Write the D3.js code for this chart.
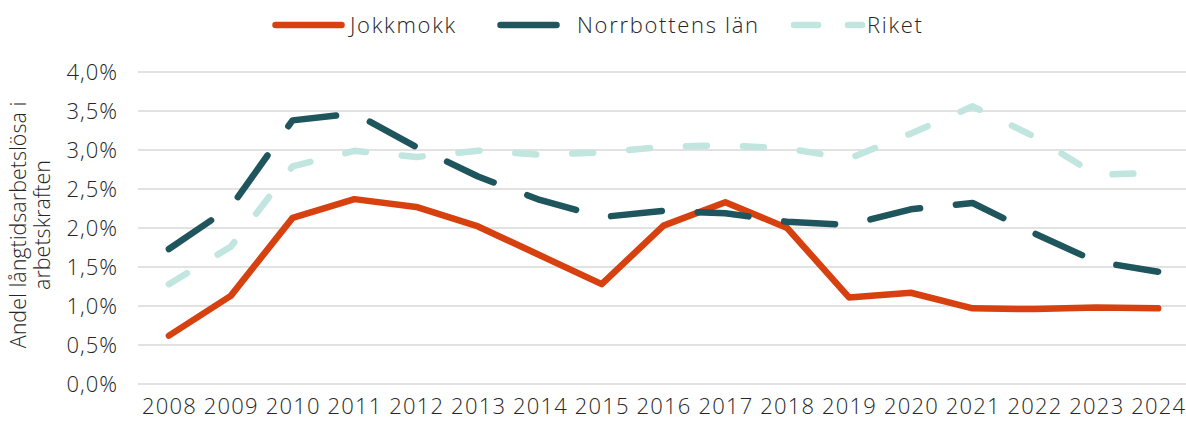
<!DOCTYPE html>
<html>
<head>
<meta charset="utf-8">
<script src="https://cdn.jsdelivr.net/npm/d3@7"></script>
<style>
  html, body { margin: 0; padding: 0; background: #fff; }
  svg { display: block; font-family: "Open Sans", sans-serif; font-weight: 300; }
</style>
</head>
<body>
<div id="chart"></div>
<script>
const years = [2008, 2009, 2010, 2011, 2012, 2013, 2014, 2015, 2016, 2017, 2018, 2019, 2020, 2021, 2022, 2023, 2024];
const jokkmokk = [0.62, 1.13, 2.13, 2.37, 2.27, 2.02, 1.65, 1.28, 2.03, 2.33, 2.00, 1.11, 1.17, 0.97, 0.96, 0.98, 0.97];
const norrbotten = [1.73, 2.27, 3.38, 3.47, 3.04, 2.66, 2.36, 2.14, 2.22, 2.19, 2.08, 2.04, 2.24, 2.32, 1.93, 1.57, 1.44];
const riket = [1.28, 1.76, 2.79, 2.99, 2.91, 2.99, 2.94, 2.97, 3.04, 3.06, 3.02, 2.89, 3.21, 3.56, 3.17, 2.68, 2.71];
const yTicks = [0, 0.5, 1, 1.5, 2, 2.5, 3, 3.5, 4];
const seriesNames = ["Jokkmokk", "Norrbottens län", "Riket"];
const yLabelLines = ["Andel långtidsarbetslösa i", "arbetskraften"];

const width = 1186, height = 423;
const margin = { top: 72, right: -3, bottom: 39, left: 138 };

const series = [
    { name: seriesNames[0], values: jokkmokk, color: "#d7410f", dash: null },
    { name: seriesNames[1], values: norrbotten, color: "#1f555c", dash: "51 36" },
    { name: seriesNames[2], values: riket, color: "#c1e5df", dash: "21 36" }
];

const svg = d3.select("#chart").append("svg")
    .attr("width", width)
    .attr("height", height);

const x = d3.scaleBand()
    .domain(years)
    .range([margin.left, width - margin.right])
    .padding(0);

const y = d3.scaleLinear()
    .domain([0, 4])
    .range([height - margin.bottom, margin.top]);

const fmt = d => d.toFixed(1).replace(".", ",") + "%";

// grille
svg.append("g")
    .selectAll("line")
    .data(yTicks)
    .join("line")
    .attr("x1", margin.left)
    .attr("x2", width - margin.right)
    .attr("y1", d => y(d))
    .attr("y2", d => y(d))
    .attr("stroke", "#d9d9d9")
    .attr("stroke-width", 1.5);

// axe y
const yAxis = svg.append("g")
    .attr("transform", `translate(${margin.left},0)`)
    .call(d3.axisLeft(y).tickValues(yTicks).tickFormat(fmt).tickSize(0).tickPadding(20));
yAxis.select(".domain").remove();
yAxis.selectAll(".tick text")
    .attr("fill", "#262626")
    .style("font-size", "22px")
    .style("letter-spacing", "1px")
    .style("font-family", "Open Sans, sans-serif")
    .style("font-weight", 300);

// axe x
const xAxis = svg.append("g")
    .attr("transform", `translate(0,${height - margin.bottom})`)
    .call(d3.axisBottom(x).tickSize(0).tickPadding(14));
xAxis.select(".domain").remove();
xAxis.selectAll(".tick text")
    .attr("fill", "#262626")
    .attr("dx", "0.6px")
    .style("font-size", "22px")
    .style("letter-spacing", "1.2px")
    .style("font-family", "Open Sans, sans-serif")
    .style("font-weight", 300);

// titre axe y
const yLabel = svg.append("text")
    .attr("transform", `translate(26,225) rotate(-90)`)
    .attr("text-anchor", "middle")
    .attr("fill", "#262626")
    .style("font-size", "21.5px");
yLabel.selectAll("tspan")
    .data(yLabelLines)
    .join("tspan")
    .attr("x", 0)
    .attr("y", (d, i) => i * 24)
    .text(d => d);

// lignes
const line = d3.line()
    .x((d, i) => x(years[i]) + x.bandwidth() / 2)
    .y(d => y(d));

svg.append("g")
    .selectAll("path")
    .data(series)
    .join("path")
    .attr("d", d => line(d.values))
    .attr("fill", "none")
    .attr("stroke", d => d.color)
    .attr("stroke-width", 6.5)
    .attr("stroke-linecap", "round")
    .attr("stroke-linejoin", "round")
    .attr("stroke-dasharray", d => d.dash);

// légende
const legendX = [275.5, 500.5, 794];
const legendLen = [66, 56, 68];
const legendTextX = [350, 577, 867];
const legend = svg.append("g")
    .selectAll("g")
    .data(series)
    .join("g")
    .attr("transform", "translate(0,25)");

legend.append("line")
    .attr("x1", (d, i) => legendX[i])
    .attr("x2", (d, i) => legendX[i] + legendLen[i])
    .attr("stroke", d => d.color)
    .attr("stroke-width", 6.5)
    .attr("stroke-linecap", "round")
    .attr("stroke-dasharray", (d, i) => i === 2 ? "24 30" : null);

legend.append("text")
    .attr("x", (d, i) => legendTextX[i])
    .attr("dy", "0.35em")
    .attr("fill", "#262626")
    .style("font-size", "22px")
    .style("letter-spacing", "1.7px")
    .text(d => d.name);
</script>
</body>
</html>
